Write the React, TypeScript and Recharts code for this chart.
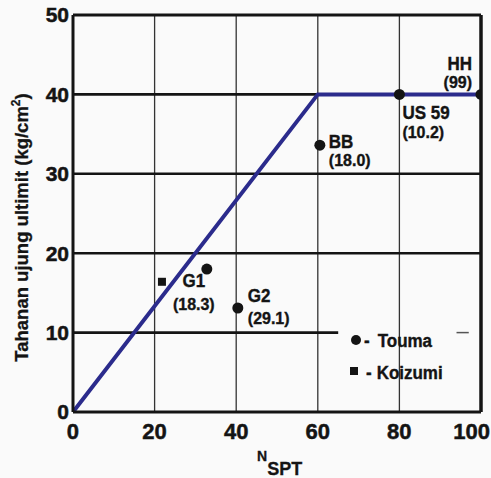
import React from "react";
import {
  ComposedChart,
  Line,
  Scatter,
  XAxis,
  YAxis,
  ReferenceLine,
} from "recharts";

// ---- data ----
const xTicks = [0, 20, 40, 60, 80, 100];
const yTicks = [0, 10, 20, 30, 40, 50];
const gridX = [20, 40, 60, 80];
const gridY = [20, 30, 40];

const curveN = [0, 60, 100];
const curveQ = [0, 40, 40];

const toumaNames = ["US 59", "HH", "BB", "G1", "G2"];
const toumaValues = ["(10.2)", "(99)", "(18.0)", "(18.3)", "(29.1)"];
const toumaN = [80, 100, 60.5, 32.8, 40.4];
const toumaQ = [40, 40, 33.6, 18.0, 13.1];

const koizumiN = [21.8];
const koizumiQ = [16.4];

const legendLabels = ["Touma", "Koizumi"];

const xLabelMain = "N";
const xLabelSub = "SPT";
const yLabelMain = "Tahanan ujung ultimit (kg/cm";
const yLabelSup = "2";
const yLabelEnd = ")";

// ---- derived tables ----
const curveData = curveN.map((x, i) => ({ x, y: curveQ[i] }));
const toumaData = toumaN.map((x, i) => ({
  x,
  y: toumaQ[i],
  name: toumaNames[i],
  value: toumaValues[i],
}));
const koizumiData = koizumiN.map((x, i) => ({ x, y: koizumiQ[i] }));

// label placement (styling only)
const labelPos: Record<string, { dx: number; dy1: number; dy2: number; anchor: "start" | "middle" | "end" }> = {
  "US 59": { dx: 3, dy1: 25, dy2: 44, anchor: "start" },
  HH: { dx: -9, dy1: -24, dy2: -6, anchor: "end" },
  BB: { dx: 9, dy1: 3, dy2: 21, anchor: "start" },
  G1: { dx: -13, dy1: 18, dy2: 41, anchor: "middle" },
  G2: { dx: 10, dy1: -6, dy2: 16, anchor: "start" },
};

const FONT = "'Liberation Sans', Arial, sans-serif";
const NAVY = "#2b2b8c";
const INK = "#141414";

const SText = ({
  x,
  y,
  anchor = "start",
  size = 17,
  sy = 1.06,
  children,
}: any) => (
  <text
    transform={`translate(${x},${y}) scale(1,${sy})`}
    textAnchor={anchor}
    fontFamily={FONT}
    fontWeight="bold"
    fontSize={size}
    fill={INK}
    stroke={INK}
    strokeWidth={0.35}
  >
    {children}
  </text>
);

const ToumaShape = (props: any) => {
  const { cx, cy, payload } = props;
  const p = labelPos[payload.name];
  return (
    <g>
      <circle cx={cx} cy={cy} r={5.5} fill={INK} />
      <SText x={cx + p.dx} y={cy + p.dy1} anchor={p.anchor} size={17}>
        {payload.name}
      </SText>
      <SText x={cx + p.dx} y={cy + p.dy2} anchor={p.anchor} size={16}>
        {payload.value}
      </SText>
    </g>
  );
};

const KoizumiShape = (props: any) => {
  const { cx, cy } = props;
  return <rect x={cx - 4} y={cy - 4} width={8} height={8} fill={INK} />;
};

const XTick = (props: any) => {
  const { x, y, payload } = props;
  const label = String(payload.value);
  const w = label.length * 12.2;
  const right = Math.min(x + w / 2, 490);
  return (
    <text
      x={right}
      y={y}
      dy="0.71em"
      textAnchor="end"
      fontFamily={FONT}
      fontWeight="bold"
      fontSize={22}
      fill={INK}
      stroke={INK}
      strokeWidth={0.5}
    >
      {label}
    </text>
  );
};

const XLabel = (props: any) => {
  const vb = props.viewBox || { x: 73, y: 412, width: 408, height: 66 };
  const cx = vb.x + vb.width / 2 - 20;
  return (
    <text x={cx} y={vb.y + 49} fontFamily={FONT} fontWeight="bold" fill={INK} stroke={INK} strokeWidth={0.3}>
      <tspan fontSize={14}>{xLabelMain}</tspan>
      <tspan fontSize={18} dy={14}>
        {xLabelSub}
      </tspan>
    </text>
  );
};

const YLabel = (props: any) => {
  const vb = props.viewBox || { x: 0, y: 15, width: 73, height: 397 };
  const x = 28;
  const y = vb.y + vb.height / 2 + 14;
  return (
    <text
      x={x}
      y={y}
      transform={`rotate(-90, ${x}, ${y})`}
      textAnchor="middle"
      fontFamily={FONT}
      fontWeight="bold"
      fontSize={18.5}
      fill={INK}
      stroke={INK}
      strokeWidth={0.3}
    >
      <tspan>{yLabelMain}</tspan>
      <tspan fontSize={12} dy={-8}>
        {yLabelSup}
      </tspan>
      <tspan dy={8}>{yLabelEnd}</tspan>
    </text>
  );
};

const LegendBox = () => (
  <svg
    width={130}
    height={62}
    style={{ position: "absolute", left: 345, top: 325, display: "block" }}
  >
    <circle cx={11} cy={15} r={5} fill={INK} />
    <SText x={19} y={22}>
      <tspan>-</tspan>
      <tspan dx={8}>{legendLabels[0]}</tspan>
    </SText>
    <rect x={5} y={42} width={8} height={8} fill={INK} />
    <SText x={21} y={54}>
      <tspan>-</tspan>
      <tspan dx={5}>{legendLabels[1]}</tspan>
    </SText>
  </svg>
);

const tickStyle = (size: number) => ({
  fill: INK,
  fontSize: size,
  fontWeight: "bold",
  fontFamily: FONT,
  stroke: INK,
  strokeWidth: 0.5,
});

export default function App() {
  return (
    <div style={{ position: "absolute", left: 0, top: 0, width: 491, height: 478, background: "#fafafa" }}>
      <ComposedChart
        width={491}
        height={478}
        margin={{ top: 15, right: 10, left: 0, bottom: 0 }}
      >
        <XAxis
          type="number"
          dataKey="x"
          domain={[0, 100]}
          ticks={xTicks}
          interval={0}
          tickSize={0}
          tickMargin={11}
          height={66}
          axisLine={{ stroke: INK, strokeWidth: 3 }}
          tick={<XTick />}
          label={<XLabel />}
          allowDataOverflow
        />
        <YAxis
          type="number"
          dataKey="y"
          domain={[0, 50]}
          ticks={yTicks}
          interval={0}
          tickSize={0}
          tickMargin={4}
          width={73}
          axisLine={{ stroke: INK, strokeWidth: 3 }}
          tick={tickStyle(21)}
          label={<YLabel />}
          allowDataOverflow
        />
        {gridX.map((v) => (
          <ReferenceLine key={"gx" + v} x={v} stroke="#333" strokeWidth={1.3} />
        ))}
        {gridY.map((v) => (
          <ReferenceLine key={"gy" + v} y={v} stroke={INK} strokeWidth={2.6} />
        ))}
        <ReferenceLine
          segment={[
            { x: 0, y: 10 },
            { x: 65, y: 10 },
          ]}
          stroke={INK}
          strokeWidth={2.6}
        />
        <ReferenceLine
          segment={[
            { x: 94, y: 10 },
            { x: 97, y: 10 },
          ]}
          stroke="#555"
          strokeWidth={1.5}
        />
        <ReferenceLine y={50} stroke={INK} strokeWidth={3} />
        <ReferenceLine x={100} stroke={INK} strokeWidth={3.5} />
        <Line
          data={curveData}
          dataKey="y"
          type="linear"
          stroke={NAVY}
          strokeWidth={4}
          dot={false}
          activeDot={false}
          isAnimationActive={false}
          legendType="none"
        />
        <Scatter
          data={toumaData}
          dataKey="y"
          shape={<ToumaShape />}
          isAnimationActive={false}
          legendType="none"
        />
        <Scatter
          data={koizumiData}
          dataKey="y"
          shape={<KoizumiShape />}
          isAnimationActive={false}
          legendType="none"
        />
      </ComposedChart>
      <LegendBox />
    </div>
  );
}
